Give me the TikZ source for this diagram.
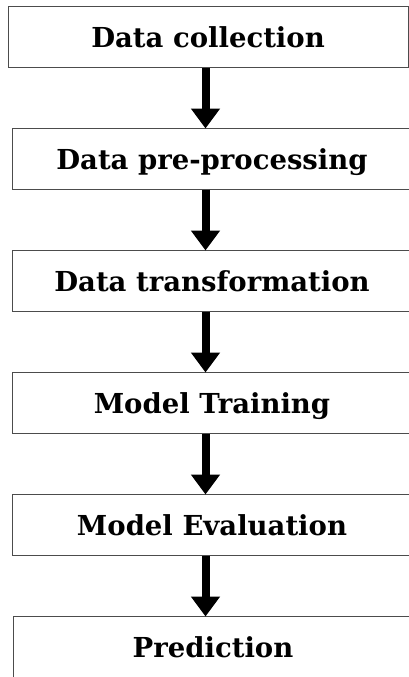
\documentclass[tikz,border=0pt]{standalone}
\usepackage{fontspec}
\setmainfont{DejaVu Serif}
\usepackage{tikz}
\usetikzlibrary{arrows.meta,positioning}
\tikzset{
  stage/.style={draw=black!70, line width=1pt, anchor=north west, minimum width=400pt, minimum height=61pt,
    inner sep=0pt, outer sep=0pt, text height=20pt, text depth=0pt, font=\fontsize{27.5}{32}\selectfont\bfseries},
  flow/.style={-{Triangle[length=20pt, width=28pt]}, line width=8pt, black}
}
\begin{document}
\begin{tikzpicture}[x=1pt, y=-1pt]
  \useasboundingbox (0,0) rectangle (408,677);
  \coordinate (axis) at (205.5,0);

  \node[stage] (collect) at (8,7) {Data collection};
  \node[stage, below=60.5pt of collect.south west, anchor=north west, xshift=4pt] (prep) {Data pre-processing};
  \node[stage, below=61pt of prep.south west, anchor=north west] (trans) {Data transformation};
  \node[stage, below=61pt of trans.south west, anchor=north west] (train) {Model Training};
  \node[stage, below=61pt of train.south west, anchor=north west] (eval) {Model Evaluation};
  \node[stage, below=61pt of eval.south west, anchor=north west, xshift=1pt] (pred) {Prediction};

  \draw[flow] (collect.south -| axis) -- (prep.north -| axis);
  \draw[flow] (prep.south -| axis) -- (trans.north -| axis);
  \draw[flow] (trans.south -| axis) -- (train.north -| axis);
  \draw[flow] (train.south -| axis) -- (eval.north -| axis);
  \draw[flow] (eval.south -| axis) -- (pred.north -| axis);
\end{tikzpicture}
\end{document}
